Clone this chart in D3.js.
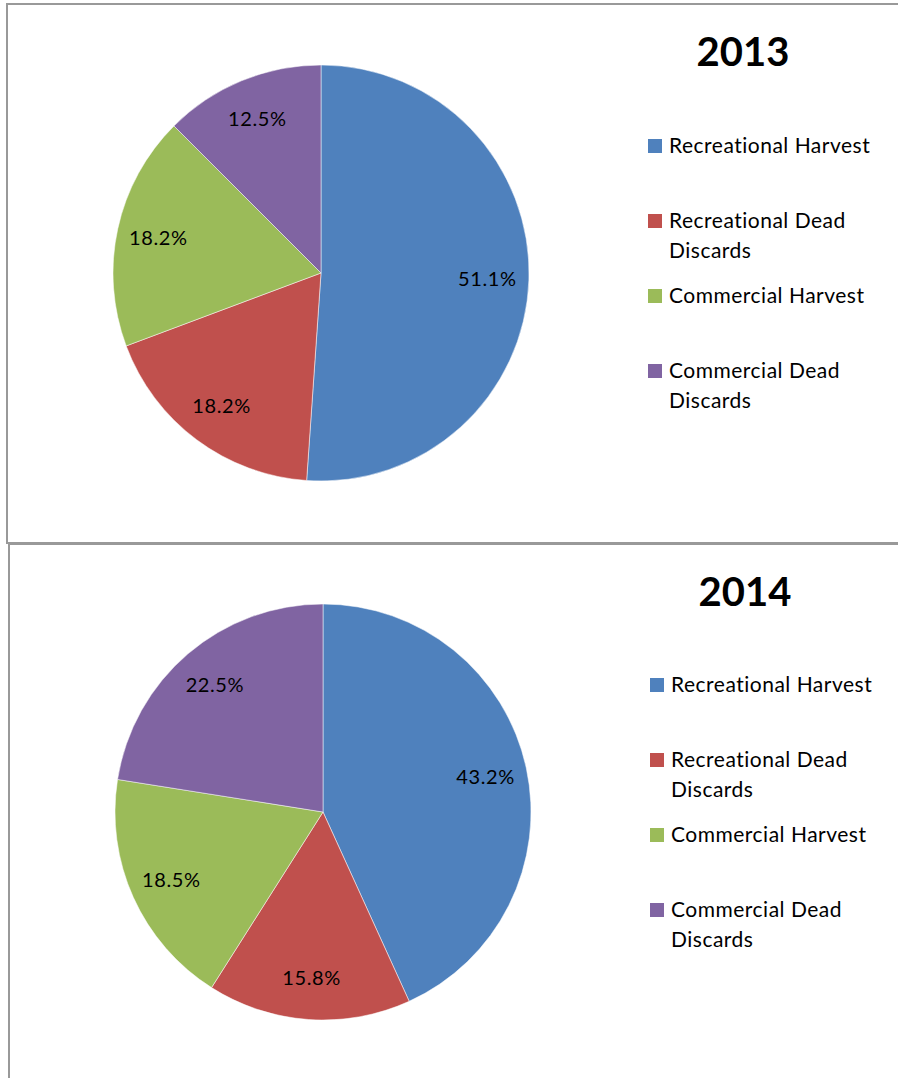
<!DOCTYPE html>
<html>
<head>
<meta charset="utf-8">
<script src="https://cdn.jsdelivr.net/npm/d3@7"></script>
<style>
  body { margin: 0; background: #fff; }
  svg { display: block; }
</style>
</head>
<body>
<div id="chart"></div>
<script>
// Data
const categories = ['Recreational Harvest', 'Recreational Dead Discards', 'Commercial Harvest', 'Commercial Dead Discards']
const legendLines = [['Recreational Harvest'], ['Recreational Dead', 'Discards'], ['Commercial Harvest'], ['Commercial Dead', 'Discards']]
const colors = ['#4F81BD', '#C0504D', '#9BBB59', '#8064A2']
const years = ['2013', '2014']
const values2013 = [51.1, 18.2, 18.2, 12.5]
const values2014 = [43.2, 15.8, 18.5, 22.5]

const width = 898, height = 1078
const svg = d3.select('#chart').append('svg')
  .attr('width', width)
  .attr('height', height)

// panel frames
const panels = [
  {x: 7, y: 4, w: 920, h: 539, cx: 321, cy: 273, tx: 743, ty: 52, lx: 648, ly: 146, values: values2013},
  {x: 9, y: 544, w: 920, h: 600, cx: 323, cy: 812, tx: 745, ty: 592, lx: 650, ly: 685, values: values2014}
]

const radius = 208
const pie = d3.pie().sort(null).value(d => d)
const arc = d3.arc().innerRadius(0).outerRadius(radius)
const labelArc = d3.arc().innerRadius(radius * 0.8).outerRadius(radius * 0.8)
const color = d3.scaleOrdinal().domain(categories).range(colors)

panels.forEach((p, pi) => {
  svg.append('rect')
    .attr('x', p.x).attr('y', p.y)
    .attr('width', p.w).attr('height', p.h)
    .attr('fill', 'none')
    .attr('stroke', '#999')
    .attr('stroke-width', 2)

  const g = svg.append('g').attr('transform', `translate(${p.cx},${p.cy})`)
  const arcs = pie(p.values)

  g.selectAll('path')
    .data(arcs)
    .enter()
    .append('path')
    .attr('d', arc)
    .attr('fill', (d, i) => color(categories[i]))
    .attr('stroke', '#fff')
    .attr('stroke-width', 0.5)

  g.selectAll('text')
    .data(arcs)
    .enter()
    .append('text')
    .attr('transform', d => `translate(${labelArc.centroid(d)})`)
    .attr('text-anchor', 'middle')
    .attr('dy', '0.35em')
    .style('font-family', 'Lato, "Open Sans", sans-serif')
    .style('font-size', '20px')
    .style('letter-spacing', '0.6px')
    .attr('fill', '#000')
    .text(d => d.data.toFixed(1) + '%')

  // title
  svg.append('text')
    .attr('x', p.tx).attr('y', p.ty)
    .attr('text-anchor', 'middle')
    .attr('dy', '0.36em')
    .style('font-family', 'Lato, "Open Sans", sans-serif')
    .style('font-weight', 'bold')
    .style('font-size', '40px')
    .text(years[pi])

  // legend
  const lg = svg.append('g')
  categories.forEach((c, i) => {
    const y = p.ly + i * 75
    lg.append('rect')
      .attr('x', p.lx).attr('y', y - 7)
      .attr('width', 14).attr('height', 14)
      .attr('fill', color(c))
    legendLines[i].forEach((line, j) => {
      lg.append('text')
        .attr('x', p.lx + 21).attr('y', y + j * 30)
        .attr('dy', '0.35em')
        .style('font-family', 'Lato, "Open Sans", sans-serif')
        .style('font-size', '21px')
        .style('letter-spacing', '0.5px')
        .attr('fill', '#000')
        .text(line)
    })
  })
})
</script>
</body>
</html>
